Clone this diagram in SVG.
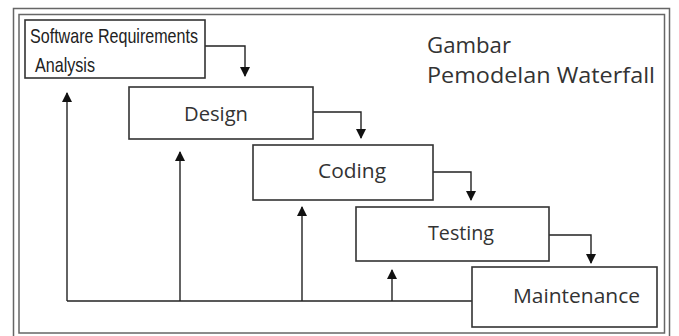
<svg xmlns="http://www.w3.org/2000/svg" width="679" height="336" viewBox="0 0 679 336">
<defs>
<marker id="ah" markerWidth="10" markerHeight="10" refX="9" refY="5" orient="auto" markerUnits="userSpaceOnUse">
<path d="M0,0 L10,5 L0,10 Z" fill="#111"/>
</marker>
<style>
.box{fill:#fff;stroke:#333;stroke-width:1.6}
.frame{fill:none;stroke:#666;stroke-width:1.5}
.con{fill:none;stroke:#222;stroke-width:1.4}
.lbl{font-family:"Open Sans","Noto Sans",sans-serif;fill:#333}
.nar{font-family:"Liberation Sans",Arial,sans-serif;fill:#222}
</style>
</defs>
<rect width="679" height="336" fill="#fff"/>
<g id="frame">
<rect class="frame" x="13.5" y="8.5" width="656" height="330"/>
<rect class="frame" x="19" y="14.5" width="645.5" height="318.5"/>
</g>
<g id="connectors">
<path class="con" d="M205,46 H245 V76" marker-end="url(#ah)"/>
<path class="con" d="M313,112 H361 V138" marker-end="url(#ah)"/>
<path class="con" d="M433,172 H471 V200" marker-end="url(#ah)"/>
<path class="con" d="M549,235 H591 V263" marker-end="url(#ah)"/>
<path class="con" d="M472,301 H67"/>
<path class="con" d="M67,301 V93" marker-end="url(#ah)"/>
<path class="con" d="M180,301 V152" marker-end="url(#ah)"/>
<path class="con" d="M302,301 V207" marker-end="url(#ah)"/>
<path class="con" d="M392,301 V270" marker-end="url(#ah)"/>
</g>
<g id="sra">
<rect class="box" x="25" y="20" width="180" height="58"/>
<text class="nar" x="30" y="43" font-size="21" textLength="168" lengthAdjust="spacingAndGlyphs">Software Requirements</text>
<text class="nar" x="35" y="72" font-size="21" textLength="60" lengthAdjust="spacingAndGlyphs">Analysis</text>
</g>
<g id="design">
<rect class="box" x="129" y="87" width="184" height="52"/>
<text class="lbl" x="184" y="121" font-size="20" textLength="64" lengthAdjust="spacingAndGlyphs">Design</text>
</g>
<g id="coding">
<rect class="box" x="253" y="145" width="180" height="55"/>
<text class="lbl" x="318" y="178" font-size="20" textLength="68" lengthAdjust="spacingAndGlyphs">Coding</text>
</g>
<g id="testing">
<rect class="box" x="356" y="207" width="193" height="54"/>
<text class="lbl" x="428" y="240" font-size="20" textLength="66" lengthAdjust="spacingAndGlyphs">Testing</text>
</g>
<g id="maintenance">
<rect class="box" x="472" y="267" width="185" height="60"/>
<text class="lbl" x="513" y="303" font-size="20" textLength="127" lengthAdjust="spacingAndGlyphs">Maintenance</text>
</g>
<g id="title">
<text class="lbl" x="427" y="53" font-size="22" textLength="84" lengthAdjust="spacingAndGlyphs">Gambar</text>
<text class="lbl" x="427" y="83" font-size="22" textLength="228" lengthAdjust="spacingAndGlyphs">Pemodelan Waterfall</text>
</g>
</svg>
